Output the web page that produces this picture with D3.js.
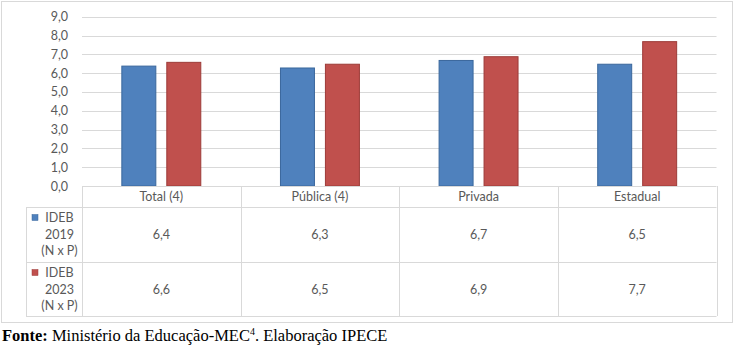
<!DOCTYPE html>
<html>
<head>
<meta charset="utf-8">
<script src="https://cdn.jsdelivr.net/npm/d3@7"></script>
<style>
  html, body { margin: 0; padding: 0; background: #fff; }
  svg { display: block; }
  .lbl { font-family: Lato, "Noto Sans", sans-serif; font-size: 12.5px; fill: #595959; }
</style>
</head>
<body>
<svg id="chart" width="734" height="347"></svg>
<script>
// chart data
const categories = ['Total (4)', 'Pública (4)', 'Privada', 'Estadual'];
const seriesNames = ['IDEB 2019 (N x P)', 'IDEB 2023 (N x P)'];
const seriesLines = [['IDEB', '2019', '(N x P)'], ['IDEB', '2023', '(N x P)']];
const ideb2019 = [6.4, 6.3, 6.7, 6.5];
const ideb2023 = [6.6, 6.5, 6.9, 7.7];
const yTicks = [0, 1, 2, 3, 4, 5, 6, 7, 8, 9];

const COLORS = ['#4f81bd', '#c0504d'];
const STROKES = ['#3a679c', '#9c3b38'];
const GRID = '#d9d9d9';

const svg = d3.select('#chart');
const fmt = (v) => d3.format('.1f')(v).replace('.', ',');

const plot = { left: 82, right: 716.5, top: 16.7, bottom: 186 };
const rows = { header: 207, r1: 262, r2: 316, labelLeft: 26 };

// outer frame
svg.append('rect')
  .attr('x', 1.5).attr('y', 1.5).attr('width', 731).attr('height', 321)
  .attr('fill', 'none').attr('stroke', GRID);

const x = d3.scaleBand().domain(categories).range([plot.left, plot.right]).padding(0);
const xSub = d3.scaleBand().domain(seriesNames).range([0, x.bandwidth()])
  .paddingInner(0.222).paddingOuter(0.875);
const y = d3.scaleLinear().domain([0, 9]).range([plot.bottom, plot.top]);

// gridlines
svg.append('g').selectAll('line').data(yTicks.slice(1)).join('line')
  .attr('x1', plot.left).attr('x2', plot.right)
  .attr('y1', (d) => Math.round(y(d)) + 0.5).attr('y2', (d) => Math.round(y(d)) + 0.5)
  .attr('stroke', GRID).attr('stroke-width', 1);

// y labels
svg.append('g').selectAll('text').data(yTicks).join('text')
  .attr('class', 'lbl')
  .attr('x', 68).attr('y', (d) => y(d))
  .attr('dy', '0.36em').attr('text-anchor', 'end')
  .text(fmt);

// bars
const series = [ideb2019, ideb2023];
series.forEach((vals, si) => {
  svg.append('g').selectAll('rect').data(vals).join('rect')
    .attr('x', (d, i) => x(categories[i]) + xSub(seriesNames[si]) + 0.5)
    .attr('width', xSub.bandwidth() - 1)
    .attr('y', (d) => y(d) + 0.5)
    .attr('height', (d) => y(0) - y(d) - 0.5)
    .attr('fill', COLORS[si])
    .attr('stroke', STROKES[si]).attr('stroke-width', 1);
});

// data table
const tbl = svg.append('g').attr('stroke', GRID).attr('stroke-width', 1).attr('fill', 'none');
tbl.append('line').attr('x1', plot.left).attr('x2', plot.right).attr('y1', plot.bottom + 0.5).attr('y2', plot.bottom + 0.5);
[rows.header, rows.r1, rows.r2].forEach((ry) => {
  tbl.append('line').attr('x1', rows.labelLeft).attr('x2', plot.right).attr('y1', ry + 0.5).attr('y2', ry + 0.5);
});
const colEdges = categories.map((c) => x(c)).concat([plot.right]);
colEdges.forEach((cx) => {
  tbl.append('line').attr('x1', Math.round(cx) + 0.5).attr('x2', Math.round(cx) + 0.5)
    .attr('y1', plot.bottom).attr('y2', rows.r2);
});
tbl.append('line').attr('x1', rows.labelLeft + 0.5).attr('x2', rows.labelLeft + 0.5)
  .attr('y1', rows.header).attr('y2', rows.r2);

// header labels
svg.append('g').selectAll('text').data(categories).join('text')
  .attr('class', 'lbl')
  .attr('x', (d) => x(d) + x.bandwidth() / 2)
  .attr('y', (plot.bottom + rows.header) / 2)
  .attr('dy', '0.36em').attr('text-anchor', 'middle')
  .text((d) => d);

// value cells
const rowMid = [(rows.header + rows.r1) / 2, (rows.r1 + rows.r2) / 2];
series.forEach((vals, si) => {
  svg.append('g').selectAll('text').data(vals).join('text')
    .attr('class', 'lbl')
    .attr('x', (d, i) => x(categories[i]) + x.bandwidth() / 2)
    .attr('y', rowMid[si])
    .attr('dy', '0.36em').attr('text-anchor', 'middle')
    .text(fmt);

  // legend key + label
  const top = si === 0 ? rows.header : rows.r1;
  svg.append('rect')
    .attr('x', 32).attr('y', top + 7.5).attr('width', 6).attr('height', 6)
    .attr('fill', COLORS[si]).attr('stroke', STROKES[si]).attr('stroke-width', 0.5);
  svg.append('g').selectAll('text').data(seriesLines[si]).join('text')
    .attr('class', 'lbl')
    .attr('x', 59.5)
    .attr('y', (d, i) => top + 10.5 + i * 16.7)
    .attr('dy', '0.36em').attr('text-anchor', 'middle')
    .text((d) => d);
});

// source line
const src = svg.append('text')
  .attr('x', 2).attr('y', 341)
  .attr('font-family', '"Liberation Serif", "Times New Roman", "DejaVu Serif", serif')
  .attr('font-size', 16.5).attr('fill', '#000');
src.append('tspan').attr('font-weight', 'bold').text('Fonte:');
src.append('tspan').text(' Ministério da Educação-MEC');
src.append('tspan').attr('font-size', 10).attr('dy', -6).text('4');
src.append('tspan').attr('dy', 6).text('. Elaboração IPECE');
</script>
</body>
</html>
